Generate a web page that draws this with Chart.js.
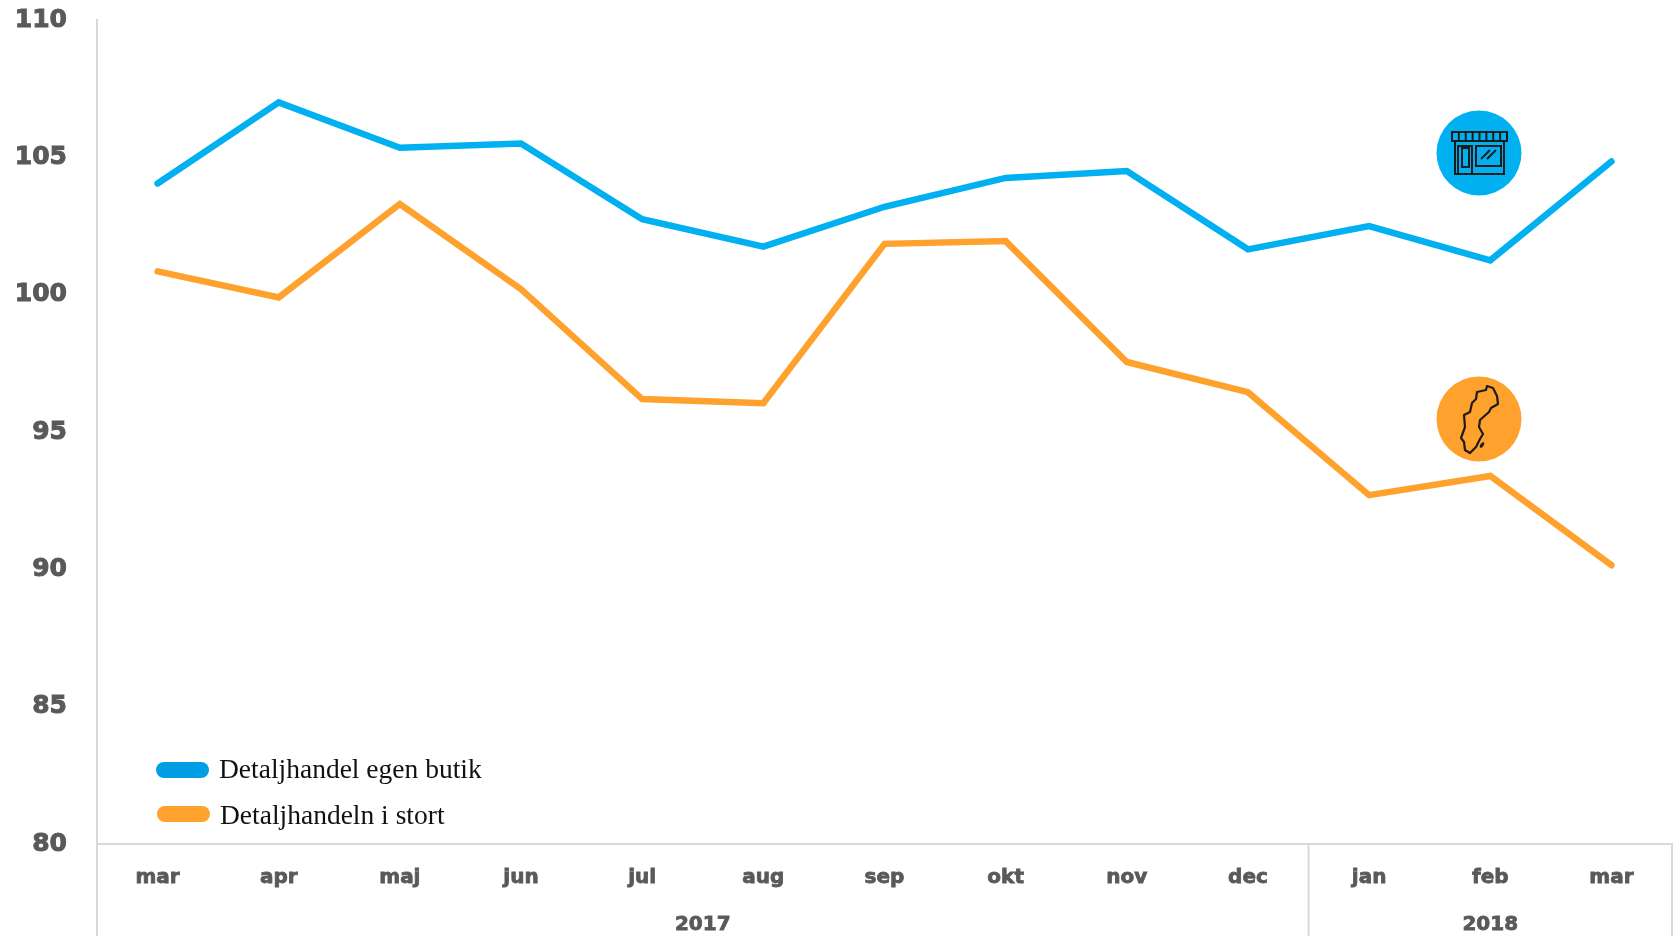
<!DOCTYPE html>
<html>
<head>
<meta charset="utf-8">
<title>Detaljhandel</title>
<script src="https://cdn.jsdelivr.net/npm/chart.js@4"></script>
<style>
html, body { margin: 0; padding: 0; background: #fff; overflow: hidden; }
canvas { display: block; }
</style>
</head>
<body>
<canvas id="myChart" width="1680" height="936"></canvas>
<script>
// data
var months = ["mar", "apr", "maj", "jun", "jul", "aug", "sep", "okt", "nov", "dec", "jan", "feb", "mar"];
var egenButik = [104.05, 107.0, 105.35, 105.5, 102.75, 101.75, 103.2, 104.25, 104.5, 101.65, 102.5, 101.25, 104.85];
var iStort = [100.85, 99.9, 103.3, 100.2, 96.2, 96.05, 101.85, 101.95, 97.55, 96.45, 92.7, 93.4, 90.15];
var seriesNames = ["Detaljhandel egen butik", "Detaljhandeln i stort"];
var years = ["2017", "2018"];
var yearFirstMonth = [0, 10];
var yearLastMonth = [9, 12];

var BLUE = "#00B0F0";
var ORANGE = "#FFA12D";
var AXIS = "#D9D9D9";
var TEXT = "#595959";
var ICON = "#1c1c1c";

// year row, separators and the axis lines running down to the page edge
var yearAxis = {
    id: "yearAxis",
    afterDraw: function(chart) {
        var c = chart.ctx, x = chart.scales.x, area = chart.chartArea;
        var step = x.getPixelForValue(1) - x.getPixelForValue(0);
        c.save();
        c.strokeStyle = AXIS;
        c.lineWidth = 2;
        var lines = [area.left, x.getPixelForValue(9) + step / 2, area.right];
        lines.forEach(function(px) {
            c.beginPath();
            c.moveTo(px, area.bottom);
            c.lineTo(px, chart.height);
            c.stroke();
        });
        c.fillStyle = TEXT;
        c.strokeStyle = TEXT;
        c.lineWidth = 0.8;
        c.font = "bold 20px 'DejaVu Sans'";
        c.textAlign = "center";
        c.textBaseline = "middle";
        years.forEach(function(y, i) {
            var mid = (x.getPixelForValue(yearFirstMonth[i]) + x.getPixelForValue(yearLastMonth[i])) / 2;
            c.fillText(y, mid, 925);
            c.strokeText(y, mid, 925);
        });
        c.restore();
    }
};

// hand placed legend, lower left inside the plot
var pillLegend = {
    id: "pillLegend",
    afterDraw: function(chart) {
        var c = chart.ctx;
        var rows = [
            { x: 156, y: 770, textY: 771, color: "#009FE3" },
            { x: 157, y: 814, textY: 817, color: ORANGE }
        ];
        c.save();
        rows.forEach(function(r, i) {
            c.fillStyle = r.color;
            c.beginPath();
            c.roundRect(r.x, r.y - 8, 53, 16, 8);
            c.fill();
            c.fillStyle = "#111";
            c.font = "27.5px 'Liberation Serif'";
            c.textAlign = "left";
            c.textBaseline = "middle";
            c.fillText(seriesNames[i], r.x + 63, r.textY);
        });
        c.restore();
    }
};

function drawShop(c, cx, cy) {
    c.save();
    c.translate(cx, cy);
    c.strokeStyle = ICON;
    c.lineWidth = 2;
    // awning
    c.strokeRect(-27, -21, 55, 9);
    for (var i = 1; i < 8; i++) {
        c.beginPath();
        c.moveTo(-27 + i * 55 / 8, -21);
        c.lineTo(-27 + i * 55 / 8, -12);
        c.stroke();
    }
    // walls, door, window
    c.strokeRect(-24, -12, 49, 33);
    c.strokeRect(-21, -7, 14, 28);
    c.strokeRect(-17, -5, 7, 19);
    c.strokeRect(-3, -7, 25, 20);
    c.beginPath();
    c.moveTo(2, 6); c.lineTo(11, -3);
    c.moveTo(8, 6); c.lineTo(17, -3);
    c.stroke();
    c.restore();
}

function drawSweden(c, cx, cy) {
    var outline = [[8,-33],[14,-31],[18,-23],[19,-15],[12,-11],[10,-7],[1,1],[0,8],[4,15],[1,20],[-3,28],[-9,34],[-14,31],[-15,23],[-18,19],[-14,8],[-15,-4],[-9,-7],[-7,-16],[-3,-20],[-2,-27],[7,-29]];
    c.save();
    c.translate(cx, cy);
    c.strokeStyle = ICON;
    c.lineWidth = 2.2;
    c.lineJoin = "round";
    c.beginPath();
    outline.forEach(function(p, i) {
        if (i == 0) c.moveTo(p[0], p[1]); else c.lineTo(p[0], p[1]);
    });
    c.closePath();
    c.stroke();
    c.fillStyle = ICON;
    c.beginPath();
    c.ellipse(3, 26, 1.6, 3.2, 0.6, 0, Math.PI * 2);
    c.fill();
    c.restore();
}

var badges = {
    id: "badges",
    afterDraw: function(chart) {
        var c = chart.ctx;
        c.save();
        c.fillStyle = BLUE;
        c.beginPath();
        c.arc(1479, 153, 42.5, 0, Math.PI * 2);
        c.fill();
        c.fillStyle = ORANGE;
        c.beginPath();
        c.arc(1479, 419, 42.5, 0, Math.PI * 2);
        c.fill();
        c.restore();
        drawShop(c, 1479, 153);
        drawSweden(c, 1479, 419);
    }
};

var ctx = document.getElementById("myChart").getContext("2d");
var chart = new Chart(ctx, {
    type: "line",
    data: {
        labels: months,
        datasets: [
            { label: seriesNames[0], data: egenButik, borderColor: BLUE, backgroundColor: BLUE },
            { label: seriesNames[1], data: iStort, borderColor: ORANGE, backgroundColor: ORANGE }
        ]
    },
    plugins: [yearAxis, pillLegend, badges],
    options: {
        responsive: false,
        animation: false,
        devicePixelRatio: 1,
        layout: { padding: { top: 20, right: 8, left: 0, bottom: 0 } },
        elements: {
            point: { radius: 0 },
            line: { borderWidth: 6.5, tension: 0, borderCapStyle: "round", borderJoinStyle: "miter" }
        },
        plugins: { legend: { display: false }, tooltip: { enabled: false } },
        scales: {
            x: {
                offset: true,
                afterFit: function(scale) {
                    scale.height = 92;
                    scale.paddingLeft = 0;
                    scale.paddingRight = 0;
                },
                grid: { display: false, drawTicks: false },
                border: { color: AXIS, width: 2 },
                ticks: {
                    color: TEXT,
                    padding: 22,
                    maxRotation: 0,
                    autoSkip: false,
                    textStrokeColor: TEXT,
                    textStrokeWidth: 0.8,
                    font: { family: "'DejaVu Sans'", size: 20, weight: "bold" }
                }
            },
            y: {
                min: 80,
                max: 110,
                afterFit: function(scale) {
                    scale.width = 97;
                    scale.paddingTop = 0;
                    scale.paddingBottom = 0;
                },
                grid: { display: false, drawTicks: false },
                border: { color: AXIS, width: 2 },
                ticks: {
                    stepSize: 5,
                    color: TEXT,
                    padding: 30,
                    textStrokeColor: TEXT,
                    textStrokeWidth: 1,
                    font: { family: "'DejaVu Sans'", size: 25, weight: "bold" }
                }
            }
        }
    }
});
</script>
</body>
</html>
